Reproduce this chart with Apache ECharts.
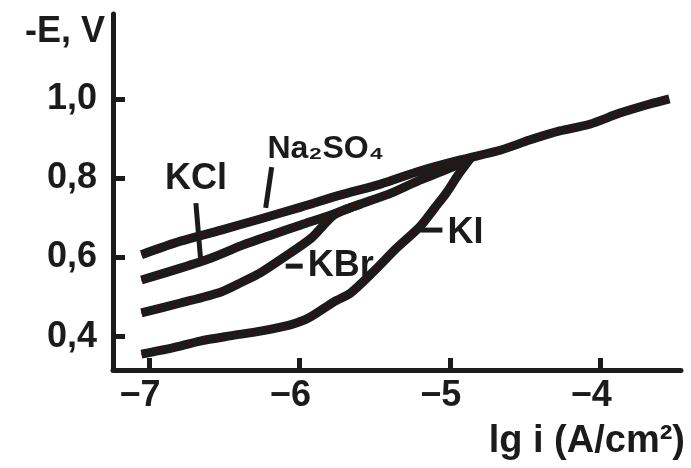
<!DOCTYPE html>
<html><head><meta charset="utf-8">
<script src="https://cdn.jsdelivr.net/npm/echarts@6/dist/echarts.min.js"></script>
<style>html,body{margin:0;padding:0;background:#fff}#c{width:691px;height:468px}</style>
</head><body><div id="c"></div>
<script>
// ---- data (x = lg i, A/cm2 ; y = -E, V) ----
const na2so4X = [-7.05, -6.79, -6.52, -6.26, -5.99, -5.73, -5.46, -5.20, -4.93, -4.66, -4.47, -4.27, -4.07, -3.87, -3.67, -3.54];
const na2so4Y = [0.607, 0.641, 0.669, 0.697, 0.727, 0.757, 0.785, 0.818, 0.846, 0.871, 0.896, 0.919, 0.936, 0.964, 0.987, 1.000];
const kclX = [-7.05, -6.79, -6.59, -6.39, -6.19, -5.99, -5.79, -5.59, -5.39, -5.20, -5.00, -4.86];
const kclY = [0.543, 0.573, 0.598, 0.629, 0.656, 0.682, 0.707, 0.735, 0.762, 0.795, 0.825, 0.851];
const kbrX = [-7.05, -6.79, -6.52, -6.38, -6.26, -6.10, -5.92, -5.77, -5.59];
const kbrY = [0.460, 0.485, 0.513, 0.538, 0.561, 0.601, 0.649, 0.707, 0.735];
const kiX = [-7.05, -6.85, -6.66, -6.46, -6.26, -6.06, -5.94, -5.77, -5.66, -5.51, -5.36, -5.20, -5.10, -5.02, -4.95, -4.86];
const kiY = [0.356, 0.371, 0.389, 0.402, 0.414, 0.430, 0.447, 0.488, 0.510, 0.563, 0.621, 0.677, 0.725, 0.764, 0.805, 0.851];

const xTicks = [-7, -6, -5, -4];
const xTickLabels = ['\u22127', '\u22126', '\u22125', '\u22124'];
const yTicks = [0.4, 0.6, 0.8, 1.0];
const yTickLabels = ['0,4', '0,6', '0,8', '1,0'];

const seriesNames = ['Na\u2082SO\u2084', 'KCl', 'KBr', 'KI'];
const curveX = [na2so4X, kclX, kbrX, kiX];
const curveY = [na2so4Y, kclY, kbrY, kiY];

// annotation anchors in data coordinates
const labelTexts = ['Na\u2082SO\u2084', 'KCl', 'KBr', 'KI'];
const labelAt = [[-5.825, 0.873], [-6.688, 0.798], [-5.945, 0.578], [-5.016, 0.661]];
const labelAlign = ['center', 'center', 'left', 'left'];
const pointerFrom = [[-6.184, 0.828], [-6.688, 0.737], [-6.091, 0.578], [-5.195, 0.669]];
const pointerTo = [[-6.224, 0.725], [-6.655, 0.588], [-5.978, 0.578], [-5.049, 0.669]];

const INK = '#1b1b1b';
const FONT = '"Liberation Sans", "DejaVu Sans", sans-serif';

const chart = echarts.init(document.getElementById('c'), null, {renderer: 'canvas'});
const zip = (xs, ys) => xs.map((x, i) => [x, ys[i]]);

const mainSeries = seriesNames.map((n, i) => ({
  name: n, type: 'line', data: zip(curveX[i], curveY[i]),
  showSymbol: false, symbol: 'none', smooth: 0.25,
  lineStyle: {color: INK, width: 9, cap: 'butt', join: 'round'},
  z: 3
}));
const dotSeries = seriesNames.map((n, i) => ({
  name: n + ' dots', type: 'line', data: zip(curveX[i], curveY[i]),
  showSymbol: false, symbol: 'none', smooth: 0.25, silent: true,
  lineStyle: {color: '#4a0808', width: 3, type: [3, 13], cap: 'butt'},
  z: 4
}));

chart.setOption({
  animation: false,
  backgroundColor: '#ffffff',
  grid: {left: 113, right: 10, top: 14, bottom: 98, containLabel: false, outerBoundsMode: 'none'},
  xAxis: {
    type: 'value', min: -7.239, max: -3.463,
    axisLine: {show: true, onZero: false, lineStyle: {color: INK, width: 5}},
    axisTick: {show: true, inside: true, length: 12, lineStyle: {color: INK, width: 5}, customValues: xTicks},
    axisLabel: {show: true, customValues: xTicks, margin: 8, color: INK,
      fontFamily: FONT, fontWeight: 'bold', fontSize: 36, padding: [0, 18, 0, 0],
      formatter: v => xTickLabels[xTicks.indexOf(Math.round(v))] || ''},
    splitLine: {show: false}
  },
  yAxis: {
    type: 'value', min: 0.316, max: 1.214,
    name: '-E, V', nameLocation: 'end', nameGap: 0,
    nameTextStyle: {color: INK, fontFamily: FONT, fontWeight: 'bold', fontSize: 36, align: 'right', verticalAlign: 'top', padding: [0, 8, 0, 0]},
    axisLine: {show: true, onZero: false, lineStyle: {color: INK, width: 5}},
    axisTick: {show: true, inside: true, length: 12, lineStyle: {color: INK, width: 5}, customValues: yTicks},
    axisLabel: {show: true, customValues: yTicks, margin: 16, color: INK,
      fontFamily: FONT, fontWeight: 'bold', fontSize: 36,
      formatter: v => { const i = yTicks.findIndex(t => Math.abs(t - v) < 1e-6); return i >= 0 ? yTickLabels[i] : ''; }},
    splitLine: {show: false}
  },
  series: mainSeries.concat(dotSeries)
});

const px = p => chart.convertToPixel({gridIndex: 0}, p);
const graphics = [];
for (let i = 0; i < labelTexts.length; i++) {
  const a = px(pointerFrom[i]), b = px(pointerTo[i]);
  graphics.push({type: 'line', shape: {x1: a[0], y1: a[1], x2: b[0], y2: b[1]},
    style: {stroke: INK, lineWidth: 5}, z: 5});
  const t = px(labelAt[i]);
  graphics.push({type: 'text', x: t[0], y: t[1], z: 5,
    style: {text: labelTexts[i], fill: INK, font: 'bold ' + (i === 0 ? 32 : 36) + 'px ' + FONT,
      align: labelAlign[i], verticalAlign: 'middle'}});
}
graphics.push({type: 'text', right: 6, top: 423, z: 5,
  style: {text: 'lg i (A/cm\u00b2)', fill: INK, font: 'bold 38px ' + FONT}});
chart.setOption({graphic: graphics});
</script>
</body></html>
